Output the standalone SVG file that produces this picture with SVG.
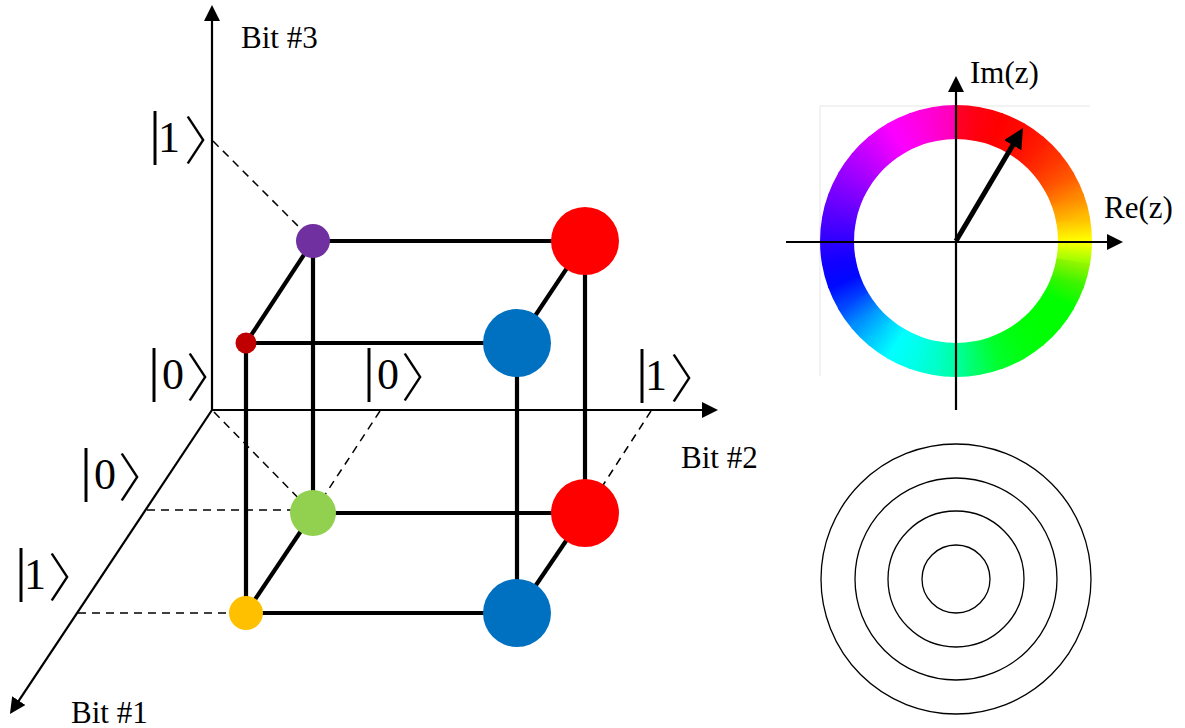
<svg xmlns="http://www.w3.org/2000/svg" xmlns:xlink="http://www.w3.org/1999/xlink" width="1185" height="728" viewBox="0 0 1185 728">
<style>
.ax{stroke:#000;stroke-width:2.2;fill:none}
.dash{stroke:#000;stroke-width:1.5;stroke-dasharray:8 6;fill:none}
.edge{stroke:#000;stroke-width:4.2;fill:none}
.lbl{font-family:"Liberation Serif","Times New Roman",serif;font-size:31px;fill:#000}
.ket{font-family:"Liberation Serif","Times New Roman",serif;font-size:44px;fill:#000}
.kb{font-size:60px}
.cjk{font-family:"Noto Sans CJK JP","Noto Sans CJK SC",sans-serif;font-size:52px;font-weight:300}
.ring{fill:none;stroke:#000;stroke-width:1.3}
</style>
<defs>
<marker id="ah" viewBox="0 0 16 16" markerWidth="16" markerHeight="16" refX="2" refY="8" orient="auto" markerUnits="userSpaceOnUse">
<path d="M0,0 L16,8 L0,16 z" fill="#000"/>
</marker>
<marker id="ah2" viewBox="0 0 20 20" markerWidth="20" markerHeight="20" refX="4" refY="10" orient="auto" markerUnits="userSpaceOnUse">
<path d="M0,0 L20,10 L0,20 z" fill="#000"/>
</marker>
<path id="arc" d="M135.42,-12.56 A136,136 0 0 1 135.42,12.56 L101.56,9.42 A102,102 0 0 0 101.56,-9.42 Z"/>
<linearGradient id="gb" gradientUnits="userSpaceOnUse" x1="0" y1="-10.37" x2="0" y2="10.37"/>
<linearGradient id="w0" href="#gb"><stop stop-color="hsl(350,100%,50%)"/><stop offset="1" stop-color="hsl(356,100%,50%)"/></linearGradient>
<linearGradient id="w1" href="#gb"><stop stop-color="hsl(356,100%,50%)"/><stop offset="1" stop-color="hsl(0,100%,50%)"/></linearGradient>
<linearGradient id="w2" href="#gb"><stop stop-color="hsl(0,100%,50%)"/><stop offset="1" stop-color="hsl(2,100%,50%)"/></linearGradient>
<linearGradient id="w3" href="#gb"><stop stop-color="hsl(2,100%,50%)"/><stop offset="1" stop-color="hsl(6,100%,50%)"/></linearGradient>
<linearGradient id="w4" href="#gb"><stop stop-color="hsl(6,100%,50%)"/><stop offset="1" stop-color="hsl(12,100%,50%)"/></linearGradient>
<linearGradient id="w5" href="#gb"><stop stop-color="hsl(12,100%,50%)"/><stop offset="1" stop-color="hsl(20,100%,50%)"/></linearGradient>
<linearGradient id="w6" href="#gb"><stop stop-color="hsl(20,100%,50%)"/><stop offset="1" stop-color="hsl(32,100%,50%)"/></linearGradient>
<linearGradient id="w7" href="#gb"><stop stop-color="hsl(32,100%,50%)"/><stop offset="1" stop-color="hsl(45,100%,50%)"/></linearGradient>
<linearGradient id="w8" href="#gb"><stop stop-color="hsl(45,100%,50%)"/><stop offset="1" stop-color="hsl(60,100%,50%)"/></linearGradient>
<linearGradient id="w9" href="#gb"><stop stop-color="hsl(60,100%,50%)"/><stop offset="1" stop-color="hsl(84,100%,50%)"/></linearGradient>
<linearGradient id="w10" href="#gb"><stop stop-color="hsl(84,100%,48%)"/><stop offset="1" stop-color="hsl(106,100%,48%)"/></linearGradient>
<linearGradient id="w11" href="#gb"><stop stop-color="hsl(106,100%,48%)"/><stop offset="1" stop-color="hsl(120,100%,50%)"/></linearGradient>
<linearGradient id="w12" href="#gb"><stop stop-color="hsl(120,100%,50%)"/><stop offset="1" stop-color="hsl(120,100%,50%)"/></linearGradient>
<linearGradient id="w13" href="#gb"><stop stop-color="hsl(120,100%,50%)"/><stop offset="1" stop-color="hsl(121,100%,50%)"/></linearGradient>
<linearGradient id="w14" href="#gb"><stop stop-color="hsl(121,100%,50%)"/><stop offset="1" stop-color="hsl(124,100%,50%)"/></linearGradient>
<linearGradient id="w15" href="#gb"><stop stop-color="hsl(124,100%,50%)"/><stop offset="1" stop-color="hsl(130,100%,50%)"/></linearGradient>
<linearGradient id="w16" href="#gb"><stop stop-color="hsl(130,100%,50%)"/><stop offset="1" stop-color="hsl(143,100%,50%)"/></linearGradient>
<linearGradient id="w17" href="#gb"><stop stop-color="hsl(143,100%,50%)"/><stop offset="1" stop-color="hsl(158,100%,50%)"/></linearGradient>
<linearGradient id="w18" href="#gb"><stop stop-color="hsl(158,100%,50%)"/><stop offset="1" stop-color="hsl(168,100%,50%)"/></linearGradient>
<linearGradient id="w19" href="#gb"><stop stop-color="hsl(168,100%,50%)"/><stop offset="1" stop-color="hsl(175,100%,50%)"/></linearGradient>
<linearGradient id="w20" href="#gb"><stop stop-color="hsl(175,100%,50%)"/><stop offset="1" stop-color="hsl(180,100%,50%)"/></linearGradient>
<linearGradient id="w21" href="#gb"><stop stop-color="hsl(180,100%,50%)"/><stop offset="1" stop-color="hsl(192,100%,50%)"/></linearGradient>
<linearGradient id="w22" href="#gb"><stop stop-color="hsl(192,100%,50%)"/><stop offset="1" stop-color="hsl(206,100%,50%)"/></linearGradient>
<linearGradient id="w23" href="#gb"><stop stop-color="hsl(206,100%,50%)"/><stop offset="1" stop-color="hsl(224,100%,50%)"/></linearGradient>
<linearGradient id="w24" href="#gb"><stop stop-color="hsl(224,100%,50%)"/><stop offset="1" stop-color="hsl(238,100%,50%)"/></linearGradient>
<linearGradient id="w25" href="#gb"><stop stop-color="hsl(238,100%,50%)"/><stop offset="1" stop-color="hsl(244,100%,50%)"/></linearGradient>
<linearGradient id="w26" href="#gb"><stop stop-color="hsl(244,100%,50%)"/><stop offset="1" stop-color="hsl(251,100%,50%)"/></linearGradient>
<linearGradient id="w27" href="#gb"><stop stop-color="hsl(251,100%,50%)"/><stop offset="1" stop-color="hsl(259,100%,50%)"/></linearGradient>
<linearGradient id="w28" href="#gb"><stop stop-color="hsl(259,100%,50%)"/><stop offset="1" stop-color="hsl(267,100%,50%)"/></linearGradient>
<linearGradient id="w29" href="#gb"><stop stop-color="hsl(267,100%,50%)"/><stop offset="1" stop-color="hsl(275,100%,50%)"/></linearGradient>
<linearGradient id="w30" href="#gb"><stop stop-color="hsl(275,100%,50%)"/><stop offset="1" stop-color="hsl(283,100%,50%)"/></linearGradient>
<linearGradient id="w31" href="#gb"><stop stop-color="hsl(283,100%,50%)"/><stop offset="1" stop-color="hsl(291,100%,50%)"/></linearGradient>
<linearGradient id="w32" href="#gb"><stop stop-color="hsl(291,100%,50%)"/><stop offset="1" stop-color="hsl(299,100%,50%)"/></linearGradient>
<linearGradient id="w33" href="#gb"><stop stop-color="hsl(299,100%,50%)"/><stop offset="1" stop-color="hsl(305,100%,50%)"/></linearGradient>
<linearGradient id="w34" href="#gb"><stop stop-color="hsl(305,100%,50%)"/><stop offset="1" stop-color="hsl(311,100%,50%)"/></linearGradient>
<linearGradient id="w35" href="#gb"><stop stop-color="hsl(311,100%,50%)"/><stop offset="1" stop-color="hsl(318,100%,50%)"/></linearGradient>
</defs>
<rect width="1185" height="728" fill="#fff"/>

<g id="axes">
<line class="ax" x1="212" y1="410" x2="212" y2="19" marker-end="url(#ah)"/>
<line class="ax" x1="212" y1="410" x2="704" y2="410" marker-end="url(#ah)"/>
<line class="ax" x1="212" y1="410" x2="17.7" y2="702.3" marker-end="url(#ah)"/>
<text class="lbl" x="241" y="48">Bit #3</text>
<text class="lbl" x="681" y="468">Bit #2</text>
<text class="lbl" x="71" y="723">Bit #1</text>
</g>

<g id="kets">
<text class="ket" y="152"><tspan class="kb" x="149" y="152">|</tspan><tspan x="158" y="152">1</tspan><tspan class="cjk" x="184" y="160">〉</tspan></text>
<text class="ket" y="389"><tspan class="kb" x="148" y="389">|</tspan><tspan x="162" y="389">0</tspan><tspan class="cjk" x="186" y="397">〉</tspan></text>
<text class="ket" y="389"><tspan class="kb" x="363" y="389">|</tspan><tspan x="377" y="389">0</tspan><tspan class="cjk" x="401" y="397">〉</tspan></text>
<text class="ket" y="390"><tspan class="kb" x="636" y="390">|</tspan><tspan x="645" y="390">1</tspan><tspan class="cjk" x="670" y="398">〉</tspan></text>
<text class="ket" y="489"><tspan class="kb" x="80" y="489">|</tspan><tspan x="94" y="489">0</tspan><tspan class="cjk" x="118" y="497">〉</tspan></text>
<text class="ket" y="589"><tspan class="kb" x="15" y="589">|</tspan><tspan x="24" y="589">1</tspan><tspan class="cjk" x="48" y="597">〉</tspan></text>
</g>

<g id="connectors">
<line class="dash" x1="213" y1="141" x2="313" y2="241"/>
<line class="dash" x1="214" y1="412" x2="313" y2="513"/>
<line class="dash" x1="380" y1="411" x2="313" y2="513"/>
<line class="dash" x1="651" y1="411" x2="585" y2="513"/>
<line class="dash" x1="147" y1="510" x2="313" y2="510"/>
<line class="dash" x1="78" y1="613" x2="246" y2="613"/>
<line class="edge" x1="313" y1="241" x2="585" y2="241"/>
<line class="edge" x1="313" y1="241" x2="246" y2="343"/>
<line class="edge" x1="246" y1="343" x2="517" y2="343"/>
<line class="edge" x1="585" y1="241" x2="517" y2="343"/>
<line class="edge" x1="313" y1="241" x2="313" y2="513"/>
<line class="edge" x1="246" y1="343" x2="246" y2="613"/>
<line class="edge" x1="517" y1="343" x2="517" y2="613"/>
<line class="edge" x1="585" y1="241" x2="585" y2="513"/>
<line class="edge" x1="313" y1="513" x2="585" y2="513"/>
<line class="edge" x1="313" y1="513" x2="246" y2="613"/>
<line class="edge" x1="246" y1="613" x2="517" y2="613"/>
<line class="edge" x1="585" y1="513" x2="517" y2="613"/>
</g>

<g id="node-purple"><circle cx="313" cy="241" r="17" fill="#7030a0"/></g>
<g id="node-red-top"><circle cx="585" cy="241" r="34" fill="#ff0000"/></g>
<g id="node-darkred"><circle cx="246" cy="343" r="10.5" fill="#c00000"/></g>
<g id="node-blue-mid"><circle cx="517" cy="343" r="34" fill="#0070c0"/></g>
<g id="node-green"><circle cx="313" cy="513" r="23" fill="#92d050"/></g>
<g id="node-red-bottom"><circle cx="585" cy="513" r="34" fill="#ff0000"/></g>
<g id="node-yellow"><circle cx="246" cy="613" r="17" fill="#ffc000"/></g>
<g id="node-blue-bottom"><circle cx="517" cy="613" r="34" fill="#0070c0"/></g>

<g id="color-wheel">
<line x1="820" y1="106" x2="820" y2="376" stroke="#e6e6e6" stroke-width="1"/>
<line x1="820" y1="106" x2="1090" y2="106" stroke="#e6e6e6" stroke-width="1"/>
<g transform="translate(956,241)">
<use href="#arc" fill="url(#w0)" transform="rotate(-85)"/>
<use href="#arc" fill="url(#w1)" transform="rotate(-75)"/>
<use href="#arc" fill="url(#w2)" transform="rotate(-65)"/>
<use href="#arc" fill="url(#w3)" transform="rotate(-55)"/>
<use href="#arc" fill="url(#w4)" transform="rotate(-45)"/>
<use href="#arc" fill="url(#w5)" transform="rotate(-35)"/>
<use href="#arc" fill="url(#w6)" transform="rotate(-25)"/>
<use href="#arc" fill="url(#w7)" transform="rotate(-15)"/>
<use href="#arc" fill="url(#w8)" transform="rotate(-5)"/>
<use href="#arc" fill="url(#w9)" transform="rotate(5)"/>
<use href="#arc" fill="url(#w10)" transform="rotate(15)"/>
<use href="#arc" fill="url(#w11)" transform="rotate(25)"/>
<use href="#arc" fill="url(#w12)" transform="rotate(35)"/>
<use href="#arc" fill="url(#w13)" transform="rotate(45)"/>
<use href="#arc" fill="url(#w14)" transform="rotate(55)"/>
<use href="#arc" fill="url(#w15)" transform="rotate(65)"/>
<use href="#arc" fill="url(#w16)" transform="rotate(75)"/>
<use href="#arc" fill="url(#w17)" transform="rotate(85)"/>
<use href="#arc" fill="url(#w18)" transform="rotate(95)"/>
<use href="#arc" fill="url(#w19)" transform="rotate(105)"/>
<use href="#arc" fill="url(#w20)" transform="rotate(115)"/>
<use href="#arc" fill="url(#w21)" transform="rotate(125)"/>
<use href="#arc" fill="url(#w22)" transform="rotate(135)"/>
<use href="#arc" fill="url(#w23)" transform="rotate(145)"/>
<use href="#arc" fill="url(#w24)" transform="rotate(155)"/>
<use href="#arc" fill="url(#w25)" transform="rotate(165)"/>
<use href="#arc" fill="url(#w26)" transform="rotate(175)"/>
<use href="#arc" fill="url(#w27)" transform="rotate(185)"/>
<use href="#arc" fill="url(#w28)" transform="rotate(195)"/>
<use href="#arc" fill="url(#w29)" transform="rotate(205)"/>
<use href="#arc" fill="url(#w30)" transform="rotate(215)"/>
<use href="#arc" fill="url(#w31)" transform="rotate(225)"/>
<use href="#arc" fill="url(#w32)" transform="rotate(235)"/>
<use href="#arc" fill="url(#w33)" transform="rotate(245)"/>
<use href="#arc" fill="url(#w34)" transform="rotate(255)"/>
<use href="#arc" fill="url(#w35)" transform="rotate(265)"/>
</g>
<line class="ax" x1="786" y1="242" x2="1109" y2="242" marker-end="url(#ah)"/>
<line class="ax" x1="956" y1="410" x2="956" y2="90" marker-end="url(#ah)"/>
<line x1="956" y1="241" x2="1014.8" y2="141.8" stroke="#000" stroke-width="5" marker-end="url(#ah2)"/>
<text class="lbl" x="970" y="83">Im(z)</text>
<text class="lbl" x="1104" y="218">Re(z)</text>
</g>

<g id="concentric">
<circle class="ring" cx="956" cy="579" r="135"/>
<circle class="ring" cx="956" cy="579" r="101"/>
<circle class="ring" cx="956" cy="579" r="68"/>
<circle class="ring" cx="956" cy="579" r="34"/>
</g>
</svg>
